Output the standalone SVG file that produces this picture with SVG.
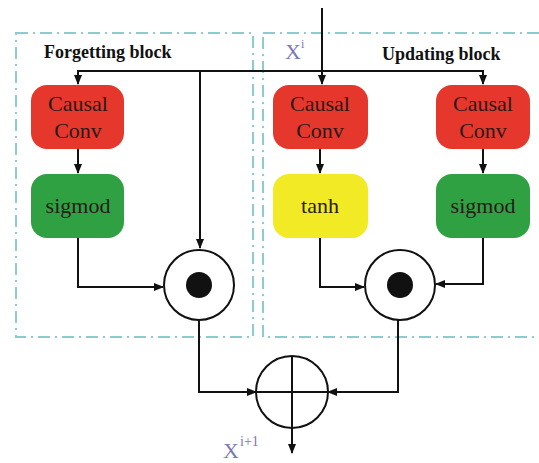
<svg xmlns="http://www.w3.org/2000/svg" width="539" height="463" viewBox="0 0 539 463">
<style>
.blk{fill:none;stroke:#8ccbcf;stroke-width:2;stroke-dasharray:12 5 2 5}
.title{font-family:"Liberation Serif",serif;font-weight:bold;font-size:18px;fill:#111}
.lbl{font-family:"Liberation Serif",serif;font-size:22px;fill:#2a1a1a;text-anchor:middle}
.red{fill:#e5372c}
.grn{fill:#2fa143}
.yel{fill:#f3ea26}
.ln{fill:none;stroke:#111;stroke-width:2}
.op{fill:#fff;stroke:#111;stroke-width:2}
.var{font-family:"Liberation Serif",serif;fill:#7a78b8}
</style>
<defs>
<marker id="ah" markerWidth="10" markerHeight="10" refX="9" refY="5" orient="auto" markerUnits="userSpaceOnUse">
<path d="M0,1 L10,5 L0,9 z" fill="#111"/>
</marker>
</defs>
<rect width="539" height="463" fill="#fff"/>
<g id="forgetting-block">
<rect class="blk" x="16" y="33" width="237" height="304"/>
<text class="title" x="44" y="58">Forgetting block</text>
</g>
<g id="updating-block">
<rect class="blk" x="263" y="33" width="280" height="304"/>
<text class="title" x="382" y="60">Updating block</text>
</g>
<g id="connectors">
<path class="ln" d="M322,8 V84" marker-end="url(#ah)"/>
<path class="ln" d="M322,71 H78 V84" marker-end="url(#ah)"/>
<path class="ln" d="M322,71 H483 V84" marker-end="url(#ah)"/>
<path class="ln" d="M200,71 V248" marker-end="url(#ah)"/>
<path class="ln" d="M78,149 V173" marker-end="url(#ah)"/>
<path class="ln" d="M320,149 V173" marker-end="url(#ah)"/>
<path class="ln" d="M483,149 V173" marker-end="url(#ah)"/>
<path class="ln" d="M78,238 V287 H163" marker-end="url(#ah)"/>
<path class="ln" d="M320,238 V287 H364" marker-end="url(#ah)"/>
<path class="ln" d="M483,238 V284 H436" marker-end="url(#ah)"/>
<path class="ln" d="M199,321 V392 H256" marker-end="url(#ah)"/>
<path class="ln" d="M398,320 V392 H328" marker-end="url(#ah)"/>
<path class="ln" d="M292,428 V453" marker-end="url(#ah)"/>
</g>
<g id="input-label">
<text class="var" x="285" y="59" font-size="22">X</text>
<text class="var" x="301" y="48" font-size="12">i</text>
</g>
<g id="causal-conv-f">
<rect class="red" x="31" y="85" width="93" height="64" rx="16"/>
<text class="lbl" x="78" y="111">Causal</text>
<text class="lbl" x="78" y="138">Conv</text>
</g>
<g id="sigmod-f">
<rect class="grn" x="31" y="174" width="93" height="64" rx="16"/>
<text class="lbl" x="78" y="213">sigmod</text>
</g>
<g id="causal-conv-u1">
<rect class="red" x="273" y="85" width="95" height="64" rx="16"/>
<text class="lbl" x="320" y="111">Causal</text>
<text class="lbl" x="320" y="138">Conv</text>
</g>
<g id="tanh">
<rect class="yel" x="273" y="174" width="95" height="64" rx="16"/>
<text class="lbl" x="320" y="213">tanh</text>
</g>
<g id="causal-conv-u2">
<rect class="red" x="436" y="85" width="94" height="64" rx="16"/>
<text class="lbl" x="483" y="111">Causal</text>
<text class="lbl" x="483" y="138">Conv</text>
</g>
<g id="sigmod-u">
<rect class="grn" x="436" y="174" width="94" height="64" rx="16"/>
<text class="lbl" x="483" y="213">sigmod</text>
</g>
<g id="mult-f">
<circle class="op" cx="199" cy="285" r="35"/>
<circle cx="199" cy="285" r="13" fill="#111"/>
</g>
<g id="mult-u">
<circle class="op" cx="400" cy="285" r="35"/>
<circle cx="400" cy="285" r="13" fill="#111"/>
</g>
<g id="add">
<circle class="op" cx="292" cy="392" r="36"/>
<path class="ln" d="M256,392 H328 M292,356 V428"/>
</g>
<g id="output-label">
<text class="var" x="223" y="458" font-size="22">X</text>
<text class="var" x="240" y="446" font-size="14">i+1</text>
</g>
</svg>
